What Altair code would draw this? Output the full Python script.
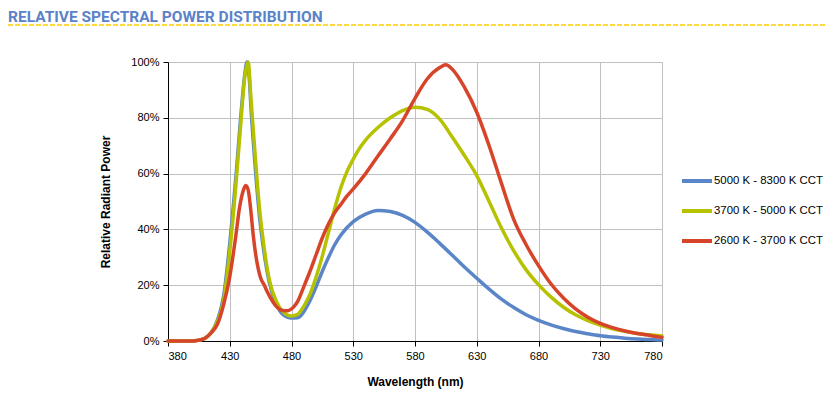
import altair as alt
import pandas as pd

series_names = ["5000 K - 8300 K CCT", "3700 K - 5000 K CCT", "2600 K - 3700 K CCT"]
series_colors = ["#5a86c8", "#b6c200", "#d6452a"]

wl_blue = [380, 390, 400, 405, 410, 415, 420, 425, 430, 435, 440, 442, 444, 446, 447, 450, 454, 458, 462, 468,
           473, 480, 485, 490, 495, 500, 505, 510, 515, 520, 530, 540, 550, 560, 570, 580, 590, 600, 610, 620,
           630, 640, 650, 660, 670, 680, 690, 700, 710, 720, 730, 740, 750, 760, 770, 780]
val_blue = [0, 0, 0, 0.3, 1, 3, 7.5, 16, 35, 59, 86, 95, 100, 93, 85, 66, 45, 31, 21, 13,
            9.5, 8.2, 8.3, 10.5, 14.5, 19.5, 25, 30, 34.5, 38, 42.8, 45.5, 46.8, 46.4, 45, 42.5, 39, 35, 30.8, 26.5,
            22.5, 18.6, 15, 12, 9.4, 7.4, 5.8, 4.5, 3.4, 2.6, 1.9, 1.4, 1.0, 0.7, 0.5, 0.35]

wl_yellow = [380, 390, 400, 405, 410, 415, 420, 425, 430, 435, 440, 442, 444, 445, 447, 450, 454, 458, 462, 468,
             473, 480, 485, 490, 495, 500, 505, 510, 515, 520, 525, 530, 535, 540, 550, 560, 570, 580, 590, 600,
             610, 620, 630, 640, 650, 660, 670, 680, 690, 700, 710, 720, 730, 740, 750, 760, 770, 780]
val_yellow = [0, 0, 0, 0.3, 1, 3, 7, 14.5, 32, 56, 84, 94, 99, 100, 88, 70, 48, 33, 22, 14,
              10.5, 9, 9.6, 12.5, 16.8, 23, 30.5, 39, 47.5, 55, 60.8, 65.2, 69, 72, 76.5, 80, 82.6, 83.8, 83, 79.5,
              73.2, 66.5, 59.3, 50, 40.5, 32.3, 25.5, 20.2, 15.8, 12.2, 9.4, 7.3, 5.7, 4.4, 3.5, 2.7, 2.2, 1.8]

wl_red = [380, 390, 400, 405, 410, 415, 420, 425, 430, 435, 438, 441, 443, 445, 447, 449, 451, 453, 455, 458,
          460, 465, 470, 475, 478, 482, 485, 490, 495, 500, 505, 510, 515, 520, 525, 530, 540, 550, 560, 570,
          580, 590, 600, 605, 610, 620, 630, 640, 650, 660, 670, 680, 690, 700, 710, 720, 730, 740, 750, 760,
          770, 780]
val_red = [0, 0, 0, 0.3, 1, 3, 6, 13, 23, 38, 48, 54, 55.7, 54, 47, 38, 31, 26, 22.6, 20,
           18, 14, 11.5, 10.8, 11, 12.3, 14.2, 19.5, 25, 31, 37, 42, 46, 49, 52, 54.5, 60, 66.3, 72.5, 79,
           87, 94, 98, 99, 97.5, 91, 82, 70, 56.5, 43.5, 34.5, 27, 20.5, 15.5, 11.5, 8.5, 6.3, 4.8, 3.6, 2.7,
           2, 1.3]

x_ticks = [380, 430, 480, 530, 580, 630, 680, 730, 780]
y_ticks = [0, 0.2, 0.4, 0.6, 0.8, 1.0]

rows = []
for name, wls, vals in [(series_names[0], wl_blue, val_blue),
                        (series_names[1], wl_yellow, val_yellow),
                        (series_names[2], wl_red, val_red)]:
    for w, v in zip(wls, vals):
        rows.append({"series": name, "wl": w, "val": v / 100.0})
df = pd.DataFrame(rows)

FONT = "Liberation Sans"

color_scale = alt.Scale(domain=series_names, range=series_colors)

lines = alt.Chart(df).mark_line(strokeWidth=3.5, interpolate="monotone", strokeCap="round").encode(
    x=alt.X("wl:Q", scale=alt.Scale(domain=[380, 780], nice=False, zero=False),
            axis=alt.Axis(values=x_ticks, title="Wavelength (nm)", format="d",
                          labelFont=FONT, labelFontSize=11, labelColor="#000",
                          titleFont=FONT, titleFontSize=12, titleFontWeight="bold", titleColor="#000",
                          titlePadding=15, labelPadding=4, tickSize=5, tickColor="#000",
                          domainColor="#000", gridColor="#c0c0c0", gridWidth=1)),
    y=alt.Y("val:Q", scale=alt.Scale(domain=[0, 1], nice=False),
            axis=alt.Axis(values=y_ticks, format=".0%", title="Relative Radiant Power",
                          labelFont=FONT, labelFontSize=11, labelColor="#000",
                          titleFont=FONT, titleFontSize=12, titleFontWeight="bold", titleColor="#000",
                          titlePadding=18, labelPadding=4, tickSize=5, tickColor="#000",
                          domainColor="#000", gridColor="#c0c0c0", gridWidth=1)),
    color=alt.Color("series:N", scale=color_scale, sort=series_names,
                    legend=alt.Legend(title=None, orient="none", legendX=512, legendY=102,
                                      symbolType="stroke", symbolStrokeWidth=4, symbolSize=900,
                                      labelFont=FONT, labelFontSize=11.4, labelColor="#000",
                                      labelOffset=0, rowPadding=5)),
    order=alt.Order("wl:Q"),
)

title_df = pd.DataFrame({"t": ["RELATIVE SPECTRAL POWER DISTRIBUTION"]})
title = alt.Chart(title_df).mark_text(
    font="Roboto", fontSize=15.5, fontWeight="bold", color="#5b82c8", align="left", baseline="alphabetic"
).encode(x=alt.value(-160), y=alt.value(-40), text="t:N")

dash = alt.Chart(title_df).mark_rule(color="#ffcc00", strokeWidth=1.5, strokeDash=[5, 2]).encode(
    x=alt.value(-160), x2=alt.value(661), y=alt.value(-37)
)

chart = alt.layer(lines, title, dash).properties(
    width=494, height=279,
    autosize=alt.AutoSizeParams(type="none"),
    padding={"left": 160, "top": 54, "right": 165, "bottom": 48},
).configure_view(stroke="#000", strokeWidth=1).configure(background="white")

chart.save("out.html", embed_options={"renderer": "svg", "actions": False})
